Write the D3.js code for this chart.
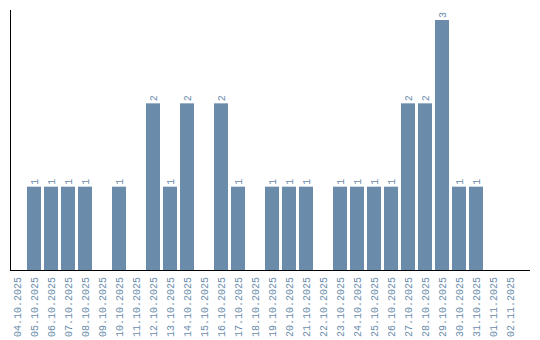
<!DOCTYPE html>
<html>
<head>
<meta charset="utf-8">
<script src="https://cdn.jsdelivr.net/npm/d3@7"></script>
<style>
  html, body { margin: 0; padding: 0; background: #fff; }
  #chart { width: 540px; height: 340px; }
  text { font-family: "Liberation Mono", monospace; font-size: 10px; fill: #6a8cab; }
</style>
</head>
<body>
<div id="chart"></div>
<script>
const dates = [
  '04.10.2025','05.10.2025','06.10.2025','07.10.2025','08.10.2025','09.10.2025',
  '10.10.2025','11.10.2025','12.10.2025','13.10.2025','14.10.2025','15.10.2025',
  '16.10.2025','17.10.2025','18.10.2025','19.10.2025','20.10.2025','21.10.2025',
  '22.10.2025','23.10.2025','24.10.2025','25.10.2025','26.10.2025','27.10.2025',
  '28.10.2025','29.10.2025','30.10.2025','31.10.2025','01.11.2025','02.11.2025'
];
const counts = [0,1,1,1,1,0,1,0,2,1,2,0,2,1,0,1,1,1,0,1,1,1,1,2,2,3,1,1,0,0];

const W = 540, H = 340;
const marginLeft = 10, marginTop = 10, baseY = 270, axisEnd = 530;
const barColor = '#6a8caa';

const svg = d3.select('#chart').append('svg')
  .attr('width', W)
  .attr('height', H);

const x = d3.scaleBand()
  .domain(dates)
  .range([marginLeft, 517])
  .paddingInner(3 / 17)
  .paddingOuter(0);

const y = d3.scaleLinear()
  .domain([0, 3])
  .range([baseY, 20]);

const data = dates.map((d, i) => ({ date: d, value: counts[i] }));

svg.append('g')
  .selectAll('rect')
  .data(data.filter(d => d.value > 0))
  .join('rect')
  .attr('x', d => x(d.date))
  .attr('y', d => y(d.value))
  .attr('width', x.bandwidth())
  .attr('height', d => baseY - y(d.value))
  .attr('fill', barColor);

// value labels, rotated
svg.append('g')
  .selectAll('text')
  .data(data.filter(d => d.value > 0))
  .join('text')
  .attr('transform', d => `translate(${x(d.date) + x.bandwidth() / 2},${y(d.value) - 2}) rotate(-90)`)
  .attr('dy', '0.35em')
  .attr('text-anchor', 'start')
  .text(d => d.value);

// date labels
svg.append('g')
  .selectAll('text')
  .data(dates)
  .join('text')
  .attr('transform', d => `translate(${x(d) + x.bandwidth() / 2},${baseY + 7}) rotate(-90)`)
  .attr('dy', '0.35em')
  .attr('text-anchor', 'end')
  .text(d => d);

// axes lines
svg.append('line')
  .attr('x1', marginLeft + 0.5).attr('x2', marginLeft + 0.5)
  .attr('y1', marginTop).attr('y2', baseY)
  .attr('stroke', '#000').attr('stroke-width', 1);

svg.append('line')
  .attr('x1', marginLeft).attr('x2', axisEnd)
  .attr('y1', baseY + 0.5).attr('y2', baseY + 0.5)
  .attr('stroke', '#000').attr('stroke-width', 1);
</script>
</body>
</html>
